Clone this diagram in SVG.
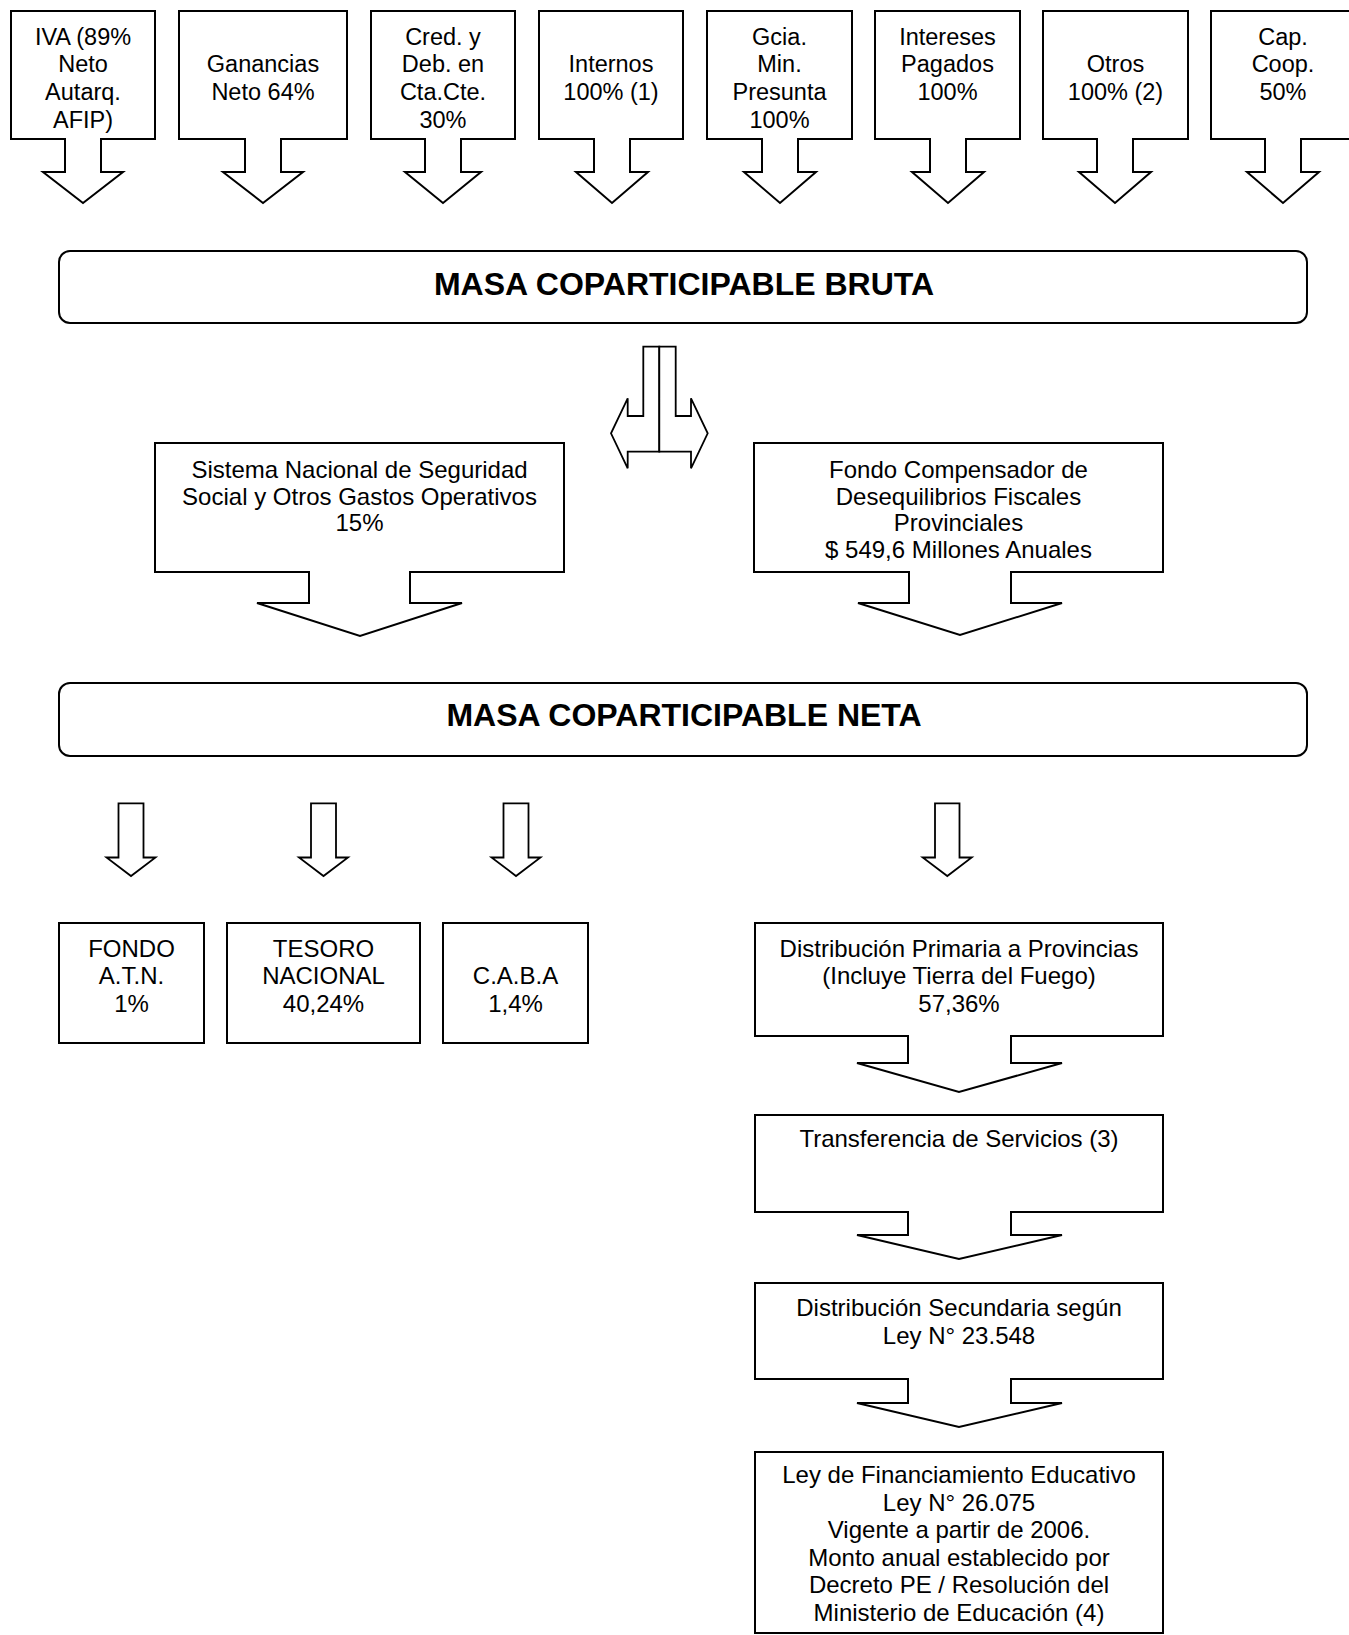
<svg xmlns="http://www.w3.org/2000/svg" width="1349" height="1635" viewBox="0 0 1349 1635">
<style>
.s{fill:#fff;stroke:#000;stroke-width:2;stroke-linejoin:miter}
.c{fill:#fff;stroke:#000;stroke-width:1.8;stroke-linejoin:miter}
text{font-family:"Liberation Sans",Arial,sans-serif;fill:#000;text-anchor:middle}
.t{font-size:23.5px}
.m{font-size:24px}
.b{font-size:32px;font-weight:bold}
</style>
<rect width="1349" height="1635" fill="#fff"/>
<g id="iva"><path class="s" d="M11,11 H155 V139 H101 V172 H123 L83,203 L43,172 H65 V139 H11 Z"/>
<text class="t" x="83" y="44.5">IVA (89%</text><text class="t" x="83" y="72">Neto</text><text class="t" x="83" y="100">Autarq.</text><text class="t" x="83" y="127.5">AFIP)</text></g>
<g id="ganancias"><path class="s" d="M179,11 H347 V139 H281 V172 H303 L263,203 L223,172 H245 V139 H179 Z"/>
<text class="t" x="263" y="72">Ganancias</text><text class="t" x="263" y="100">Neto 64%</text></g>
<g id="cred"><path class="s" d="M371,11 H515 V139 H461 V172 H481 L443,203 L405,172 H425 V139 H371 Z"/>
<text class="t" x="443" y="44.5">Cred. y</text><text class="t" x="443" y="72">Deb. en</text><text class="t" x="443" y="100">Cta.Cte.</text><text class="t" x="443" y="127.5">30%</text></g>
<g id="internos"><path class="s" d="M539,11 H683 V139 H630 V172 H648 L612,203 L576,172 H594 V139 H539 Z"/>
<text class="t" x="611" y="72">Internos</text><text class="t" x="611" y="100">100% (1)</text></g>
<g id="gcia"><path class="s" d="M707,11 H852 V139 H798 V172 H816 L780,203 L744,172 H762 V139 H707 Z"/>
<text class="t" x="779.5" y="44.5">Gcia.</text><text class="t" x="779.5" y="72">Min.</text><text class="t" x="779.5" y="100">Presunta</text><text class="t" x="779.5" y="127.5">100%</text></g>
<g id="intereses"><path class="s" d="M875,11 H1020 V139 H966 V172 H984 L948,203 L912,172 H930 V139 H875 Z"/>
<text class="t" x="947.5" y="44.5">Intereses</text><text class="t" x="947.5" y="72">Pagados</text><text class="t" x="947.5" y="100">100%</text></g>
<g id="otros"><path class="s" d="M1043,11 H1188 V139 H1133 V172 H1151 L1115,203 L1079,172 H1097 V139 H1043 Z"/>
<text class="t" x="1115.5" y="72">Otros</text><text class="t" x="1115.5" y="100">100% (2)</text></g>
<g id="cap"><path class="s" d="M1211,11 H1356 V139 H1301 V172 H1319 L1283,203 L1247,172 H1265 V139 H1211 Z"/>
<text class="t" x="1283" y="44.5">Cap.</text><text class="t" x="1283" y="72">Coop.</text><text class="t" x="1283" y="100">50%</text></g>

<g id="bruta"><rect class="s" x="59" y="251" width="1248" height="72" rx="11"/>
<text class="b" x="684" y="295">MASA COPARTICIPABLE BRUTA</text></g>

<g id="snss"><path class="s" d="M155,443 H564 V572 H410 V603 H462 L360,636 L257,603 H309 V572 H155 Z"/>
<text class="m" x="359.5" y="478">Sistema Nacional de Seguridad</text><text class="m" x="359.5" y="505">Social y Otros Gastos Operativos</text><text class="m" x="359.5" y="531">15%</text></g>
<g id="fondo-comp"><path class="s" d="M754,443 H1163 V572 H1011 V603 H1062 L960,635 L858,603 H909 V572 H754 Z"/>
<text class="m" x="958.5" y="478">Fondo Compensador de</text><text class="m" x="958.5" y="505">Desequilibrios Fiscales</text><text class="m" x="958.5" y="531">Provinciales</text><text class="m" x="958.5" y="557.5">$ 549,6 Millones Anuales</text></g>

<g id="neta"><rect class="s" x="59" y="683" width="1248" height="73" rx="11"/>
<text class="b" x="684" y="726">MASA COPARTICIPABLE NETA</text></g>

<g id="atn"><rect class="s" x="59" y="923" width="145" height="120"/>
<text class="m" x="131.5" y="956.7">FONDO</text><text class="m" x="131.5" y="983.5">A.T.N.</text><text class="m" x="131.5" y="1011.5">1%</text></g>
<g id="tesoro"><rect class="s" x="227" y="923" width="193" height="120"/>
<text class="m" x="323.5" y="956.7">TESORO</text><text class="m" x="323.5" y="983.5">NACIONAL</text><text class="m" x="323.5" y="1011.5">40,24%</text></g>
<g id="caba"><rect class="s" x="443" y="923" width="145" height="120"/>
<text class="m" x="515.5" y="983.5">C.A.B.A</text><text class="m" x="515.5" y="1011.5">1,4%</text></g>

<g id="primaria"><path class="s" d="M755,923 H1163 V1036 H1011 V1063 H1062 L959,1092 L857,1063 H908 V1036 H755 Z"/>
<text class="m" x="959" y="956.7">Distribución Primaria a Provincias</text><text class="m" x="959" y="984">(Incluye Tierra del Fuego)</text><text class="m" x="959" y="1011.5">57,36%</text></g>
<g id="transferencia"><path class="s" d="M755,1115 H1163 V1212 H1011 V1235 H1062 L959,1259 L857,1235 H908 V1212 H755 Z"/>
<text class="m" x="959" y="1146.7">Transferencia de Servicios (3)</text></g>
<g id="secundaria"><path class="s" d="M755,1283 H1163 V1379 H1011 V1403 H1062 L959,1427 L857,1403 H908 V1379 H755 Z"/>
<text class="m" x="959" y="1316">Distribución Secundaria según</text><text class="m" x="959" y="1344">Ley N° 23.548</text></g>
<g id="ley"><rect class="s" x="755" y="1452" width="408" height="181"/>
<text class="m" x="959" y="1483.3">Ley de Financiamiento Educativo</text><text class="m" x="959" y="1510.7">Ley N° 26.075</text><text class="m" x="959" y="1538.3">Vigente a partir de 2006.</text><text class="m" x="959" y="1566">Monto anual establecido por</text><text class="m" x="959" y="1593.3">Decreto PE / Resolución del</text><text class="m" x="959" y="1620.7">Ministerio de Educación (4)</text></g>

<g id="connectors">
<path class="c" d="M643.3,346.7 H659.3 V451.7 H627.7 V468.3 L611,433.3 L627.7,398.3 V416 H643.3 Z"/>
<path class="c" d="M659.3,346.7 H675.7 V416 H691 V398.3 L707.7,433.3 L691,468.3 V451.7 H659.3 Z"/>
<path class="c" d="M118.5,803.3 H143.5 V857.5 H155.5 L131,876 L106.5,857.5 H118.5 Z"/>
<path class="c" d="M311,803.3 H336 V857.5 H348 L323.5,876 L299,857.5 H311 Z"/>
<path class="c" d="M503.5,803.3 H528.5 V857.5 H540.5 L516,876 L491.5,857.5 H503.5 Z"/>
<path class="c" d="M935,803.3 H959.5 V857.5 H971.7 L947.3,876 L922.7,857.5 H935 Z"/>
</g>
</svg>
